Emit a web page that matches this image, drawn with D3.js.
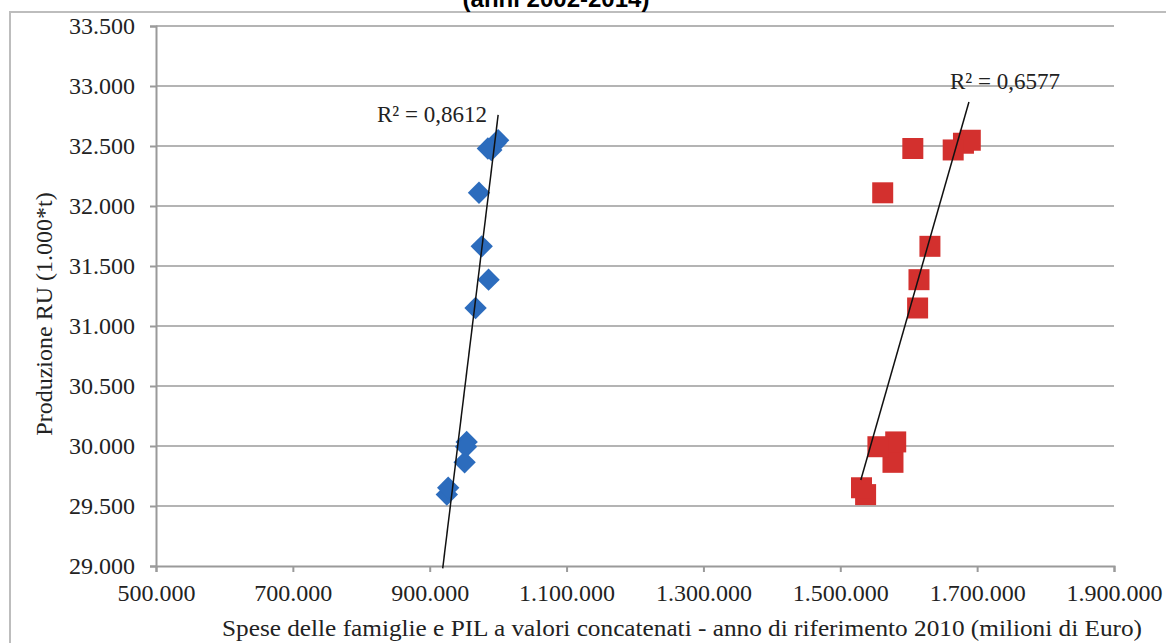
<!DOCTYPE html>
<html>
<head>
<meta charset="utf-8">
<script src="https://cdn.jsdelivr.net/npm/d3@7"></script>
<style>
  body { margin: 0; background: #fff; }
  svg { display: block; }
  .tick text { font-family: 'Liberation Serif', 'Times New Roman', serif; }
</style>
</head>
<body>
<div id="chart"></div>
<script>
// anni 2002-2014
const anni = [2002, 2003, 2004, 2005, 2006, 2007, 2008, 2009, 2010, 2011, 2012, 2013, 2014];
// Produzione RU (1.000*t)
const produzioneRU = [29864, 30034, 31150, 31664, 32523, 32548, 32467, 32110, 32479, 31386, 29994, 29595, 29652];
// Spese delle famiglie (milioni di Euro)
const speseFamiglie = [951000, 954000, 967000, 976000, 996000, 1000000, 990000, 972000, 985000, 986000, 953000, 925000, 927000];
// PIL (milioni di Euro)
const pil = [1577000, 1581000, 1613000, 1631000, 1680000, 1690000, 1665000, 1562000, 1606000, 1615000, 1555000, 1537000, 1531000];

// linee di tendenza (estremi)
const trendSpeseX = [919000, 1000000];
const trendSpeseY = [28980, 32760];
const trendPilX = [1530000, 1688000];
const trendPilY = [29717, 32867];

const xTicks = [500000, 700000, 900000, 1100000, 1300000, 1500000, 1700000, 1900000];
const yTicks = [29000, 29500, 30000, 30500, 31000, 31500, 32000, 32500, 33000, 33500];

const W = 1166, H = 643;
const margin = { top: 26, right: 52, bottom: 77, left: 156 };

const it = d3.formatLocale({ decimal: ",", thousands: ".", grouping: [3], currency: ["", "€"] });
const fmt = it.format(",.0f");

const serif = "'Liberation Serif', 'Times New Roman', serif";

const svg = d3.select("#chart").append("svg")
  .attr("width", W)
  .attr("height", H);

// cornice del grafico
svg.append("rect")
  .attr("x", 10).attr("y", 12)
  .attr("width", W + 20).attr("height", H + 20)
  .attr("fill", "none")
  .attr("stroke", "#bdbdbd")
  .attr("stroke-width", 2);

// titolo (tagliato in alto)
svg.append("text")
  .attr("x", 556).attr("y", 7)
  .attr("text-anchor", "middle")
  .style("font-family", "'Liberation Sans', Arial, sans-serif")
  .style("font-weight", "bold")
  .style("font-size", "24px")
  .attr("fill", "#000")
  .text("(anni 2002-2014)");

let x = d3.scaleLinear().domain([500000, 1900000]).range([margin.left, W - margin.right]);
let y = d3.scaleLinear().domain([29000, 33500]).range([H - margin.bottom, margin.top]);

let g = svg.append("g");

// griglia orizzontale
g.selectAll(".grid")
  .data(yTicks.slice(1))
  .enter().append("line")
    .attr("class", "grid")
    .attr("x1", x(500000)).attr("x2", x(1900000))
    .attr("y1", d => y(d)).attr("y2", d => y(d))
    .attr("stroke", "#b4b4b4")
    .attr("stroke-width", 2);

// asse y
let yAxis = g.append("g")
  .attr("transform", "translate(" + x(500000) + ",0)")
  .call(d3.axisLeft(y).tickValues(yTicks).tickFormat(fmt).tickSize(6).tickPadding(15));

// asse x
let xAxis = g.append("g")
  .attr("transform", "translate(0," + y(29000) + ")")
  .call(d3.axisBottom(x).tickValues(xTicks).tickFormat(fmt).tickSize(6).tickPadding(12));

[yAxis, xAxis].forEach(a => {
  a.attr("font-family", serif).attr("font-size", 24);
  a.select(".domain").attr("stroke", "#9a9a9a").attr("stroke-width", 2);
  a.selectAll(".tick line").attr("stroke", "#9a9a9a").attr("stroke-width", 2);
  a.selectAll("text").attr("fill", "#222");
});

// titoli degli assi
svg.append("text")
  .attr("x", 682).attr("y", 636)
  .attr("text-anchor", "middle")
  .attr("textLength", 920)
  .attr("lengthAdjust", "spacingAndGlyphs")
  .style("font-family", serif)
  .style("font-size", "24px")
  .attr("fill", "#222")
  .text("Spese delle famiglie e PIL a valori concatenati - anno di riferimento 2010 (milioni di Euro)");

svg.append("text")
  .attr("transform", "translate(52,314) rotate(-90)")
  .attr("text-anchor", "middle")
  .style("font-family", serif)
  .style("font-size", "24px")
  .attr("fill", "#222")
  .text("Produzione RU (1.000*t)");

let series = [
  { name: "spese", xs: speseFamiglie, tx: trendSpeseX, ty: trendSpeseY, color: "#2c6cbd", shape: "diamond", r2: "R² = 0,8612", lx: 487, ly: 122, anchor: "end" },
  { name: "pil", xs: pil, tx: trendPilX, ty: trendPilY, color: "#d3302e", shape: "square", r2: "R² = 0,6577", lx: 950, ly: 89, anchor: "start" }
];

let line = d3.line().x(d => x(d[0])).y(d => y(d[1]));

series.forEach(s => {
  let pts = s.xs.map((v, i) => ({ x: v, y: produzioneRU[i] }));
  let sq = d3.symbol().type(d3.symbolSquare).size(s.shape === "diamond" ? 250 : 441);

  g.selectAll(".pt-" + s.name)
    .data(pts)
    .enter().append("path")
      .attr("class", "pt-" + s.name)
      .attr("d", sq)
      .attr("transform", d => "translate(" + x(d.x) + "," + y(d.y) + ")" + (s.shape === "diamond" ? " rotate(45)" : ""))
      .attr("fill", s.color);

  g.append("path")
    .datum(s.tx.map((v, i) => [v, s.ty[i]]))
    .attr("d", line)
    .attr("fill", "none")
    .attr("stroke", "#111")
    .attr("stroke-width", 1.5);

  svg.append("text")
    .attr("x", s.lx).attr("y", s.ly)
    .attr("text-anchor", s.anchor)
    .style("font-family", serif)
    .style("font-size", "23px")
    .attr("fill", "#222")
    .text(s.r2);
});
</script>
</body>
</html>
